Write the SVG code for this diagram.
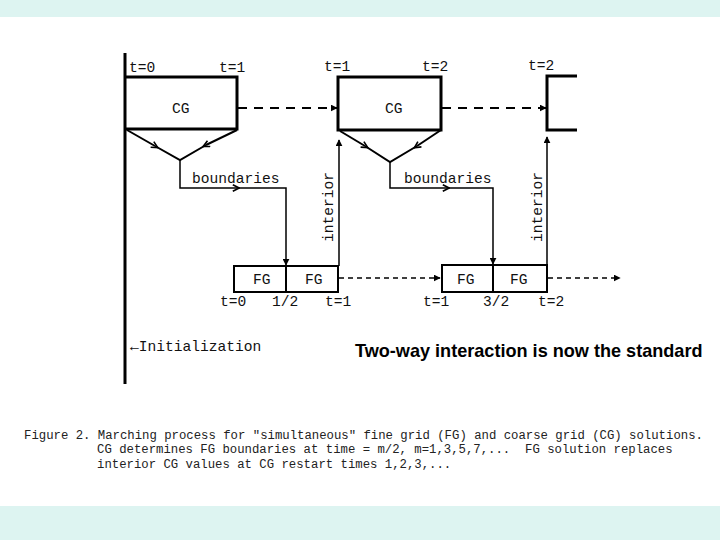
<svg xmlns="http://www.w3.org/2000/svg" width="720" height="540" viewBox="0 0 720 540">
<defs>
<style>
.band{fill:#ddf4f1}
.tw{font-family:"Liberation Mono","DejaVu Sans Mono",monospace;font-size:14.6px;fill:#111}
.cap{font-family:"Liberation Mono","DejaVu Sans Mono",monospace;font-size:12.3px;fill:#222;white-space:pre}
.thick{fill:none;stroke:#000;stroke-width:3}
.med{fill:none;stroke:#000;stroke-width:2}
.thin{fill:none;stroke:#000;stroke-width:1.5}
.dash{fill:none;stroke:#000;stroke-width:2;stroke-dasharray:9,7}
.dashs{fill:none;stroke:#000;stroke-width:1.3;stroke-dasharray:5,4}
.title{font-family:"Liberation Sans",Arial,sans-serif;font-size:18.1px;font-weight:bold;fill:#000}
</style>
<marker id="ah" viewBox="0 0 10 10" refX="9" refY="5" markerWidth="7" markerHeight="7" orient="auto" markerUnits="userSpaceOnUse">
<path d="M0,0 L10,5 L0,10 Z" fill="#000"/>
</marker>
<marker id="mid" viewBox="0 0 10 10" refX="5" refY="5" markerWidth="8" markerHeight="8" orient="auto" markerUnits="userSpaceOnUse">
<path d="M1,1 L9,5 L1,9" fill="none" stroke="#000" stroke-width="2"/>
</marker>
</defs>
<rect width="720" height="540" fill="#fff"/>
<rect class="band" x="0" y="0" width="720" height="17"/>
<rect class="band" x="0" y="506" width="720" height="34"/>

<g id="timeline">
<line class="thick" x1="125" y1="53" x2="125" y2="384"/>
<text class="tw" x="130" y="351">&#8592;Initialization</text>
</g>

<g id="cg1">
<path class="thick" d="M125,77 H237 V129 H125"/>
<text class="tw" x="129" y="72">t=0</text>
<text class="tw" x="219" y="72">t=1</text>
<text class="tw" x="172" y="113">CG</text>
</g>

<g id="cg2">
<path class="thick" d="M338,130 V77 H441 V130 Z"/>
<text class="tw" x="324" y="71">t=1</text>
<text class="tw" x="422" y="71">t=2</text>
<text class="tw" x="385" y="113">CG</text>
</g>

<g id="cg3">
<path class="thick" d="M577,76 H547 V130 H577"/>
<text class="tw" x="528" y="70">t=2</text>
</g>

<g id="fg1">
<rect class="med" x="234" y="266" width="104" height="26"/>
<line class="med" x1="286" y1="266" x2="286" y2="292"/>
<text class="tw" x="253" y="284">FG</text>
<text class="tw" x="305" y="284">FG</text>
<text class="tw" x="220" y="306">t=0</text>
<text class="tw" x="272" y="306">1/2</text>
<text class="tw" x="325" y="306">t=1</text>
</g>

<g id="fg2">
<rect class="med" x="442" y="265" width="105" height="27"/>
<line class="med" x1="493" y1="265" x2="493" y2="292"/>
<text class="tw" x="457" y="284">FG</text>
<text class="tw" x="510" y="284">FG</text>
<text class="tw" x="423" y="306">t=1</text>
<text class="tw" x="483" y="306">3/2</text>
<text class="tw" x="538" y="306">t=2</text>
</g>

<g id="labels">
<text class="tw" x="192" y="183">boundaries</text>
<text class="tw" x="404" y="183">boundaries</text>
<text class="tw" transform="translate(333,242) rotate(-90)">interior</text>
<text class="tw" transform="translate(542,242) rotate(-90)">interior</text>
<text class="title" x="355" y="357">Two-way interaction is now the standard</text>
</g>

<g id="connectors">
<path class="med" d="M127,130 L155,146" marker-end="url(#mid)"/>
<path class="med" d="M155,146 L180,160 L206,145"/>
<path class="med" d="M237,130 L206,145" marker-end="url(#mid)"/>
<path class="thin" d="M180,160 V188 H236" marker-end="url(#mid)"/>
<path class="thin" d="M236,188 H286 V265" marker-end="url(#ah)"/>
<path class="med" d="M340,131 L365,146" marker-end="url(#mid)"/>
<path class="med" d="M365,146 L390,162 L417,146"/>
<path class="med" d="M441,130 L417,146" marker-end="url(#mid)"/>
<path class="thin" d="M390,162 V188 H446" marker-end="url(#mid)"/>
<path class="thin" d="M446,188 H493 V264" marker-end="url(#ah)"/>
<path class="thin" d="M339,266 V140" marker-end="url(#ah)"/>
<path class="thin" d="M547,265 V137" marker-end="url(#ah)"/>
<path class="dash" d="M238,108 H337" marker-end="url(#ah)"/>
<path class="dash" d="M442,108 H546" marker-end="url(#ah)"/>
<path class="dashs" d="M339,278 H440" marker-end="url(#ah)"/>
<path class="dashs" d="M548,278 H620" marker-end="url(#ah)"/>
</g>

<g id="caption">
<text class="cap" x="24" y="439">Figure 2. Marching process for "simultaneous" fine grid (FG) and coarse grid (CG) solutions.</text>
<text class="cap" x="97" y="453" xml:space="preserve">CG determines FG boundaries at time = m/2, m=1,3,5,7,...  FG solution replaces</text>
<text class="cap" x="97" y="468">interior CG values at CG restart times 1,2,3,...</text>
</g>
</svg>
